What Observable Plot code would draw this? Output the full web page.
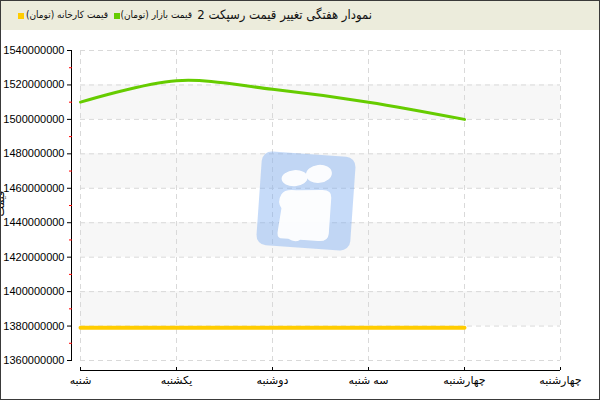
<!DOCTYPE html>
<html><head><meta charset="utf-8">
<script src="https://cdn.jsdelivr.net/npm/d3@7"></script>
<script src="https://cdn.jsdelivr.net/npm/@observablehq/plot@0.6"></script>
<style>
body{margin:0;background:#fff;}
#wrap{position:relative;width:600px;height:400px;box-sizing:border-box;border:1px solid #3a3a3a;overflow:hidden;font-family:"Liberation Sans","DejaVu Sans",sans-serif;background:#fff;}
#head{position:absolute;left:0;top:0;width:598px;height:29px;background:#ececdc;}
.sw{position:absolute;width:6px;height:6px;top:12px;}
.lt{position:absolute;top:8px;font-size:10px;color:#111;white-space:nowrap;direction:rtl;font-family:"DejaVu Sans Condensed","DejaVu Sans",sans-serif;}
#title{position:absolute;top:6px;right:227px;font-size:13px;color:#111;white-space:nowrap;direction:rtl;font-family:"DejaVu Sans Condensed","DejaVu Sans",sans-serif;}
#chart{position:absolute;left:0;top:29px;}
#ylab{position:absolute;left:-13px;top:196px;transform:rotate(-90deg);font-size:11px;font-family:"DejaVu Sans",sans-serif;direction:rtl;}
#wm{position:absolute;left:250px;top:143px;pointer-events:none;}
</style></head>
<body>
<div id="wrap">
  <div id="head">
    <div class="sw" style="left:17px;background:#ffcc00"></div>
    <div class="lt" id="lg1" style="right:491px">قیمت کارخانه (تومان)</div>
    <div class="sw" style="left:113px;background:#66cc00"></div>
    <div class="lt" id="lg2" style="right:407px">قیمت بازار (تومان)</div>
    <div id="title">نمودار هفتگی تغییر قیمت رسپکت 2</div>
  </div>
  <div id="chart"></div>
  <div id="ylab">قیمت</div>
  <svg id="wm" width="110" height="115" viewBox="0 0 110 115">
    <g transform="rotate(4 55 57)" opacity="0.42">
      <rect x="8" y="10" width="94" height="94" rx="10" fill="#78aaf0"/>
    </g>
    <g transform="rotate(4 55 57)" fill="#ffffff" opacity="0.95">
      <ellipse cx="42" cy="35" rx="13" ry="8" transform="rotate(-8 42 35)"/>
      <ellipse cx="66" cy="29" rx="13" ry="9" transform="rotate(-10 66 29)"/>
      <path d="M30 52 Q33 46 45 47 L70 45 Q80 44 80 52 L80 88 Q80 96 70 96 L52 96 Q47 100 40 96 L32 96 Q28 95 29 88 L31 66 Q26 60 30 52 Z"/>
    </g>
  </svg>
</div>
<script>
const days = ["شنبه", "یکشنبه", "دوشنبه", "سه شنبه", "چهارشنبه", "چهارشنبه"];
const dayIndex = [0, 1, 2, 3, 4, 5];
const pointIndex = [0, 1, 2, 3, 4];
const marketPrice = [1510000000, 1522500000, 1517500000, 1510000000, 1500000000];
const factoryPrice = [1379000000, 1379000000, 1379000000, 1379000000, 1379000000];
const yMajor = [1360000000, 1380000000, 1400000000, 1420000000, 1440000000, 1460000000, 1480000000, 1500000000, 1520000000, 1540000000];
const yMinor = [1370000000, 1390000000, 1410000000, 1430000000, 1450000000, 1470000000, 1490000000, 1510000000, 1530000000];
const bandStarts = [1380000000, 1420000000, 1460000000, 1500000000];
const bandSize = 20000000;

const market = pointIndex.map((i) => ({x: i, y: marketPrice[i]}));
const factory = pointIndex.map((i) => ({x: i, y: factoryPrice[i]}));

const chart = Plot.plot({
  width: 598,
  height: 369,
  marginTop: 20,
  marginBottom: 39,
  marginLeft: 79,
  marginRight: 39,
  style: {background: "transparent", fontSize: "11px", fontFamily: "'Liberation Sans','DejaVu Sans',sans-serif", color: "#000"},
  x: {domain: [0, 5]},
  y: {domain: [1360000000, 1540000000]},
  marks: [
    Plot.rect(bandStarts, {y1: (d) => d, y2: (d) => d + bandSize, fill: "#f7f7f7"}),
    Plot.gridY(yMajor, {stroke: "#d9d9d9", strokeOpacity: 1, strokeDasharray: "5,4"}),
    Plot.gridX(dayIndex, {stroke: "#d9d9d9", strokeOpacity: 1, strokeDasharray: "5,4"}),
    Plot.ruleX([0], {dx: -9, stroke: "#000"}),
    Plot.ruleY([1360000000], {dy: 10, stroke: "#000"}),
    Plot.axisY(yMajor, {tickSize: 5, dx: -8, tickPadding: 3, tickFormat: (d) => String(d), label: null, stroke: "#000", fill: "#000"}),
    Plot.axisY(yMinor, {tickSize: 3, dx: -8, fill: "none", stroke: "red", label: null}),
    Plot.axisX(dayIndex, {tickSize: -3, dy: 10, fill: "none", stroke: "#000", label: null}),
    Plot.axisX(dayIndex, {tickSize: 0, tickPadding: 16, tickFormat: (i) => days[i], label: null, fill: "#000"}),
    Plot.line(factory, {x: "x", y: "y", stroke: "#ffcc00", strokeWidth: 4}),
    Plot.line(market, {x: "x", y: "y", stroke: "#66cc00", strokeWidth: 3, curve: "catmull-rom"})
  ]
});
document.getElementById("chart").appendChild(chart);
</script>
</body></html>
